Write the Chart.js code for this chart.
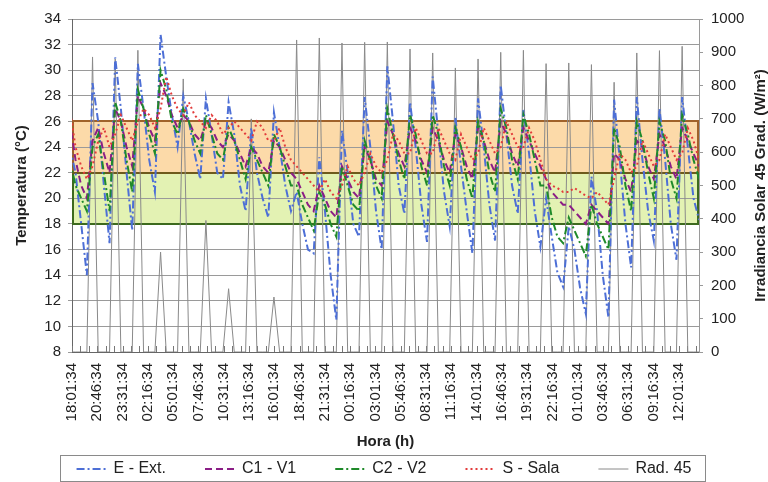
<!DOCTYPE html>
<html>
<head>
<meta charset="utf-8">
<script src="https://cdn.jsdelivr.net/npm/chart.js@4.4.1/dist/chart.umd.min.js"></script>
<style>
  html, body { margin: 0; padding: 0; background: #ffffff; }
  canvas { display: block; }
</style>
</head>
<body>
<canvas id="chart" width="768" height="482"></canvas>
<script>
// Axis tick labels (one every 165 minutes from the start of the log)
const tickLabels = [
  '18:01:34', '20:46:34', '23:31:34', '02:16:34', '05:01:34', '07:46:34', '10:31:34',
  '13:16:34', '16:01:34', '18:46:34', '21:31:34', '00:16:34', '03:01:34', '05:46:34',
  '08:31:34', '11:16:34', '14:01:34', '16:46:34', '19:31:34', '22:16:34', '01:01:34',
  '03:46:34', '06:31:34', '09:16:34', '12:01:34'
];
const tickStepMin = 165;
const minorTickStepMin = 55;
const axisEndMin = 4092;

// Sampling of the logged series (minutes relative to 18:01:34)
const sampleStartMin = -14;
const sampleStepMin = 37;

// Temperatures (°C)
const extTemp = [
  24, 22, 18, 14,
  29, 26, 21, 16.5,   31, 27, 22, 17.5,   30.5, 27, 23, 20.5,   32.8, 29.5, 26.5, 24,
  28, 26, 23.5, 21.5, 27.8, 25, 22, 21.5, 27.5, 25, 21, 19,     25.5, 22, 20, 18.5,
  26.7, 24, 21, 19,   20.5, 18, 16, 15.7, 23.2, 19, 14, 10.5,   25.3, 22, 18, 17,
  27.9, 24, 19, 16,   30.3, 26, 21, 18.8, 27.5, 24, 19.5, 16.6, 29.5, 25, 20.5, 17.8,
  26.3, 22.5, 19, 15.7, 27.8, 24, 19.5, 16.7, 28.8, 25, 21, 18.8, 26.9, 23.5, 19, 16.2,
  20, 17, 14.2, 13.1, 17.8, 16, 13, 11, 21.7, 19, 14, 10.7,     27.7, 23, 18, 14.6,
  27.9, 23, 19, 16.7, 27, 23, 18, 15.2, 27.9, 24, 20, 18.3
];
const c1Temp = [
  26, 23, 21, 20,
  24.5, 25.5, 23.5, 22, 27, 26, 24, 22.5, 28, 27, 25.5, 24.5, 29, 28, 26.5, 25.5,
  26.5, 26, 25, 24.5, 26, 25.5, 24.5, 24, 25, 24.5, 23.5, 22.5, 24, 23.5, 22.5, 22,
  24.5, 24, 23, 22, 21.5, 20.5, 19.5, 19, 21, 20, 19, 18.5, 22.5, 21.5, 20.5, 20,
  24, 23, 21.5, 21, 26, 25, 23.5, 22.5, 25.5, 24.5, 23, 22, 25.5, 24.5, 23, 22,
  25, 24, 22.5, 21.5, 25.5, 24.5, 23, 22, 26, 25, 23.5, 22.5, 25.5, 24.5, 23.5, 22.5,
  21.5, 20.5, 20, 19.5, 19.5, 19, 18.5, 18, 19.5, 19, 18.5, 18, 23.5, 23, 21.5, 20.5,
  24.5, 24, 22.5, 21.5, 25, 24, 22.5, 21.5, 25.5, 24.5, 23.5, 22.5
];
const c2Temp = [
  23, 21, 20, 19,
  24, 25, 22, 19, 27.5, 26, 23, 20.5, 28.5, 27, 25, 23.5, 30, 28.5, 26, 25,
  27, 26, 24.5, 23.5, 26.5, 25, 23.5, 23, 25.5, 24.5, 23, 21.5, 24, 23, 22, 21,
  25, 24, 22.5, 21, 21, 19.5, 18.5, 17.5, 20.5, 19.5, 18, 17, 22.5, 21, 19.5, 19,
  24.5, 23, 21, 20, 27, 25, 23, 21.5, 26.5, 25, 22.5, 21, 26.5, 25, 22.5, 21,
  25.5, 24, 21.5, 20, 26, 24.5, 22, 20.5, 27, 25.5, 23, 21.5, 26.5, 25, 23, 21,
  21, 18.5, 17, 16.5, 18.5, 17.5, 16.5, 15.5, 19.5, 18, 17, 16, 25.5, 24, 21, 19,
  26, 24.5, 22, 20, 26, 24.5, 21.5, 20, 26.5, 25, 23, 21.5
];
const salaTemp = [
  27, 24, 22.5, 21.5,
  22.5, 24.5, 25.5, 24, 25, 26.5, 25.5, 24.5, 26, 27, 26.5, 25.5, 27, 29.5, 28, 27,
  26.5, 27.5, 26.5, 26, 25.5, 26.5, 26, 25, 25.5, 26, 25.5, 25, 24.5, 26, 25.5, 24.5,
  24.5, 25.5, 24, 23, 22.5, 22, 21.5, 21, 20.5, 21.5, 20.5, 20, 21, 22.5, 21.5, 21,
  22, 23.5, 22.5, 22, 23, 25, 24.5, 23.5, 23.5, 25.5, 24.5, 23.5, 23.5, 25.5, 24.5, 23.5,
  23, 25, 24, 23, 23.5, 25.5, 24.5, 23.5, 24, 26, 25, 24, 24, 25.5, 24.5, 23,
  21.5, 21, 20.8, 20.5, 20.5, 20.8, 20.5, 20.2, 20, 20.5, 20, 19.5, 21.5, 23.5, 23, 22,
  22.5, 24.5, 23.5, 22.5, 23, 25, 24, 23, 23.5, 25.5, 24.5, 23
];

// Solar irradiance on the 45° plane (W/m²)
const rad45 = [
  0, 0, 0, 0,
  886, 0, 0, 0, 880, 0, 0, 0, 906, 0, 0, 0, 300, 0, 0, 0,
  820, 0, 0, 0, 395, 0, 0, 0, 190, 0, 0, 0, 700, 0, 0, 0,
  165, 0, 0, 0, 937, 0, 0, 0, 943, 0, 0, 0, 928, 0, 0, 0,
  930, 0, 0, 0, 931, 0, 0, 0, 910, 0, 0, 0, 898, 0, 0, 0,
  853, 0, 0, 0, 880, 0, 0, 0, 900, 0, 0, 0, 906, 0, 0, 0,
  866, 0, 0, 0, 868, 0, 0, 0, 863, 0, 0, 0, 810, 0, 0, 0,
  898, 0, 0, 0, 905, 0, 0, 0, 918, 0, 0, 0
];

// Comfort bands (°C): warm band and mild band
const bandFrom = [22, 18];
const bandTo = [26, 22];

const FONT = "'Liberation Sans', Arial, sans-serif";
const sampleTimes = extTemp.map((_, i) => sampleStartMin + i * sampleStepMin);
const toPoints = values => values.map((v, i) => ({ x: sampleTimes[i], y: v }));

const bandStyles = [
  { fill: '#fcdaa9', top: '#a0622a', bottom: '#6e5a1c', side: '#a0622a' },
  { fill: '#e3f2b3', top: '#6e5a1c', bottom: '#3d6a1e', side: '#3d6a1e' }
];

const legendHeight = 29;

const decorPlugin = {
  id: 'decor',
  beforeDraw(chart) {
    const { ctx, chartArea: a, scales: { y } } = chart;
    ctx.save();
    ctx.fillStyle = '#ffffff';
    ctx.fillRect(0, 0, chart.width, chart.height);
    bandFrom.forEach((from, i) => {
      const top = y.getPixelForValue(bandTo[i]);
      const bottom = y.getPixelForValue(from);
      ctx.fillStyle = bandStyles[i].fill;
      ctx.fillRect(a.left, top, a.right - a.left, bottom - top);
    });
    ctx.restore();
  },
  beforeDatasetsDraw(chart) {
    const { ctx, chartArea: a, scales: { x, y } } = chart;
    ctx.save();
    ctx.lineWidth = 2;
    const seg = (color, x1, y1, x2, y2) => {
      ctx.strokeStyle = color;
      ctx.beginPath();
      ctx.moveTo(x1, y1);
      ctx.lineTo(x2, y2);
      ctx.stroke();
    };
    bandFrom.forEach((from, i) => {
      const top = Math.round(y.getPixelForValue(bandTo[i]));
      const bottom = Math.round(y.getPixelForValue(from));
      const st = bandStyles[i];
      seg(st.side, a.left + 1, top, a.left + 1, bottom);
      seg(st.side, a.right - 1, top, a.right - 1, bottom);
    });
    bandFrom.forEach((from, i) => {
      const top = Math.round(y.getPixelForValue(bandTo[i]));
      const bottom = Math.round(y.getPixelForValue(from));
      const st = bandStyles[i];
      seg(st.top, a.left, top, a.right, top);
      seg(st.bottom, a.left, bottom, a.right, bottom);
    });

    // small tick marks inside the plot along the time axis
    ctx.strokeStyle = '#777';
    ctx.lineWidth = 1;
    ctx.beginPath();
    for (let t = 0; t <= axisEndMin; t += minorTickStepMin) {
      const px = Math.round(x.getPixelForValue(t)) + 0.5;
      ctx.moveTo(px, a.bottom);
      ctx.lineTo(px, a.bottom - 6);
    }
    ctx.stroke();
    ctx.restore();
  },
  afterDraw(chart) {
    const { ctx, chartArea: a } = chart;

    // right axis title, reading bottom to top
    ctx.save();
    ctx.translate(chart.width - 7, (a.top + a.bottom) / 2);
    ctx.rotate(-Math.PI / 2);
    ctx.font = 'bold 15px ' + FONT;
    ctx.fillStyle = '#222';
    ctx.textAlign = 'center';
    ctx.textBaseline = 'middle';
    ctx.fillText('Irradiancia Solar 45 Grad. (W/m²)', 0, 0);
    ctx.restore();

    // legend: line sample + label for each series, framed
    const sampleLen = 30, sampleGap = 7, itemGap = 39;
    ctx.save();
    ctx.font = '16px ' + FONT;
    const items = chart.data.datasets.map(ds => ({
      label: ds.label,
      color: ds.borderColor,
      dash: ds.borderDash || [],
      width: ds.borderWidth,
      textW: ctx.measureText(ds.label).width
    }));
    const total = items.reduce((s, it) => s + sampleLen + sampleGap + it.textW, 0) + itemGap * (items.length - 1);
    const startX = (chart.width - total) / 2;
    const frameTop = chart.height - legendHeight + 2;
    const midY = frameTop + 14;
    ctx.strokeStyle = '#8a8a8a';
    ctx.lineWidth = 1;
    ctx.strokeRect(Math.round(startX - 17) + 0.5, frameTop + 0.5, Math.round(total + 30), legendHeight - 3);
    let px = startX;
    items.forEach(it => {
      ctx.beginPath();
      ctx.setLineDash(it.dash);
      ctx.strokeStyle = it.color;
      ctx.lineWidth = it.width;
      ctx.moveTo(px, midY);
      ctx.lineTo(px + sampleLen, midY);
      ctx.stroke();
      ctx.setLineDash([]);
      ctx.fillStyle = '#222';
      ctx.textAlign = 'left';
      ctx.textBaseline = 'middle';
      ctx.fillText(it.label, px + sampleLen + sampleGap, midY);
      px += sampleLen + sampleGap + it.textW + itemGap;
    });
    ctx.restore();
  }
};

const lineSet = (label, values, color, dash, order) => ({
  label,
  data: toPoints(values),
  borderColor: color,
  backgroundColor: color,
  borderWidth: 2,
  borderDash: dash,
  pointRadius: 0,
  tension: 0,
  yAxisID: 'y',
  order
});

new Chart(document.getElementById('chart'), {
  type: 'line',
  data: {
    datasets: [
      lineSet('E - Ext.', extTemp, '#4d6fd6', [8, 3, 2, 3], 5),
      lineSet('C1 - V1', c1Temp, '#8b1e86', [7, 4], 4),
      lineSet('C2 - V2', c2Temp, '#1f8a2a', [8, 3, 2, 3], 3),
      lineSet('S - Sala', salaTemp, '#e23b3b', [2, 3], 2),
      {
        label: 'Rad. 45',
        data: toPoints(rad45),
        borderColor: '#8a8a8a',
        backgroundColor: '#8a8a8a',
        borderWidth: 1,
        pointRadius: 0,
        tension: 0,
        yAxisID: 'y2',
        order: 6
      }
    ]
  },
  options: {
    responsive: false,
    animation: false,
    devicePixelRatio: 1,
    layout: { padding: { top: 19, left: 0, right: 0, bottom: legendHeight } },
    plugins: {
      tooltip: { enabled: false },
      legend: { display: false }
    },
    scales: {
      x: {
        type: 'linear',
        min: 0,
        max: axisEndMin,
        afterFit: s => { s.height = 101; },
        ticks: {
          stepSize: tickStepMin,
          includeBounds: false,
          autoSkip: false,
          maxRotation: 90,
          minRotation: 90,
          padding: 11,
          font: { family: FONT, size: 15 },
          color: '#222',
          callback: v => tickLabels[Math.round(v / tickStepMin)] ?? ''
        },
        grid: { drawOnChartArea: false, drawTicks: false, color: '#666' },
        border: { color: '#666', width: 1 },
        title: {
          display: true,
          text: 'Hora (h)',
          font: { family: FONT, size: 15, weight: 'bold' },
          color: '#222',
          padding: { top: 2, bottom: 2 }
        }
      },
      y: {
        position: 'left',
        min: 8,
        max: 34,
        afterFit: s => { s.width = 72; },
        ticks: {
          stepSize: 2,
          padding: 7,
          font: { family: FONT, size: 15 },
          color: '#222'
        },
        grid: { color: '#9a9a9a', lineWidth: 1, tickLength: 4 },
        border: { color: '#666', width: 1 },
        title: {
          display: true,
          text: 'Temperatura (°C)',
          font: { family: FONT, size: 15, weight: 'bold' },
          color: '#222',
          padding: { top: 13, bottom: 0 }
        }
      },
      y2: {
        position: 'right',
        min: 0,
        max: 1000,
        afterFit: s => { s.width = 69; },
        ticks: {
          stepSize: 100,
          padding: 8,
          font: { family: FONT, size: 15 },
          color: '#222',
          callback: v => String(v)
        },
        grid: { drawOnChartArea: false, tickLength: 4, color: '#9a9a9a' },
        border: { color: '#9a9a9a', width: 1 }
      }
    }
  },
  plugins: [decorPlugin]
});
</script>
</body>
</html>
